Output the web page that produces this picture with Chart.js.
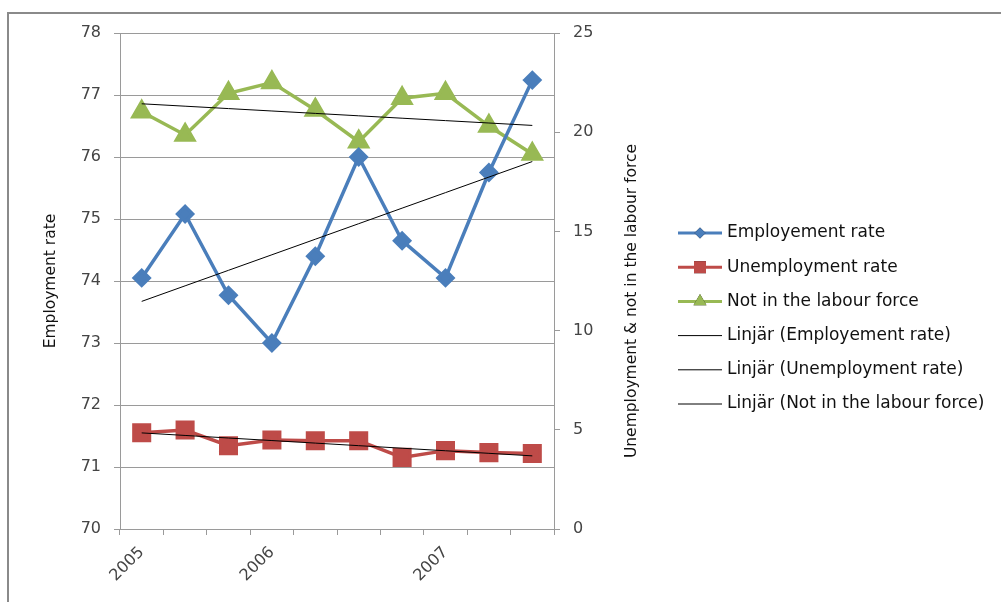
<!DOCTYPE html>
<html>
<head>
<meta charset="utf-8">
<script src="https://cdn.jsdelivr.net/npm/chart.js@4/dist/chart.umd.min.js"></script>
<style>
  html, body { margin: 0; padding: 0; background: #ffffff; }
  #wrap { width: 1001px; height: 602px; position: relative; }
</style>
</head>
<body>
<div id="wrap"><canvas id="chart" width="1001" height="602"></canvas></div>
<script>
// Quarterly labour market figures, 2005–2007
const periods = ['2005', '', '', '2006', '', '', '', '2007', '', ''];
const employmentRate = [74.05, 75.08, 73.77, 73.0, 74.4, 76.0, 74.65, 74.05, 75.75, 77.24];
const unemploymentRate = [4.85, 4.99, 4.2, 4.49, 4.45, 4.45, 3.61, 3.95, 3.85, 3.81];
const notInLabourForce = [21.03, 19.86, 21.96, 22.5, 21.12, 19.52, 21.71, 21.96, 20.31, 18.9];

const leftTicks = { min: 70, max: 78, step: 1 };
const rightTicks = { min: 0, max: 25, step: 5 };

const seriesNames = ['Employement rate', 'Unemployment rate', 'Not in the labour force'];
const trendPrefix = 'Linjär';

const COLORS = { blue: '#4A7EBB', red: '#BE4B48', green: '#98B954', grid: '#9a9a9a', text: '#444444' };
const FONT = '"DejaVu Sans", "Open Sans", sans-serif';

// Least-squares linear trend evaluated at every category index
function linearTrend(values) {
  const n = values.length;
  const mx = (n - 1) / 2;
  const my = values.reduce((a, b) => a + b, 0) / n;
  let sxy = 0, sxx = 0;
  values.forEach((v, i) => { sxy += (i - mx) * (v - my); sxx += (i - mx) * (i - mx); });
  const slope = sxy / sxx;
  return values.map((_, i) => my + slope * (i - mx));
}

const trendStyle = { borderColor: '#000000', borderWidth: 1, pointRadius: 0, fill: false, tension: 0 };

const datasets = [
  { label: seriesNames[0], data: employmentRate, yAxisID: 'yLeft', borderColor: COLORS.blue, backgroundColor: COLORS.blue,
    borderWidth: 3.5, pointStyle: 'rectRot', pointRadius: 7.5, order: 3 },
  { label: seriesNames[1], data: unemploymentRate, yAxisID: 'yRight', borderColor: COLORS.red, backgroundColor: COLORS.red,
    borderWidth: 3.5, pointStyle: 'rect', pointRadius: 11, order: 3 },
  { label: seriesNames[2], data: notInLabourForce, yAxisID: 'yRight', borderColor: COLORS.green, backgroundColor: COLORS.green,
    borderWidth: 3.5, pointStyle: 'triangle', pointRadius: 10, order: 3 },
  Object.assign({ label: trendPrefix + ' (' + seriesNames[0] + ')', data: linearTrend(employmentRate), yAxisID: 'yLeft', order: 1 }, trendStyle),
  Object.assign({ label: trendPrefix + ' (' + seriesNames[1] + ')', data: linearTrend(unemploymentRate), yAxisID: 'yRight', order: 1 }, trendStyle),
  Object.assign({ label: trendPrefix + ' (' + seriesNames[2] + ')', data: linearTrend(notInLabourForce), yAxisID: 'yRight', order: 1 }, trendStyle)
];

// Outer frame of the chart object
const framePlugin = {
  id: 'frame',
  beforeDraw(chart) {
    const ctx = chart.ctx;
    ctx.save();
    ctx.fillStyle = '#ffffff';
    ctx.fillRect(0, 0, chart.width, chart.height);
    ctx.strokeStyle = '#8a8a8a';
    ctx.lineWidth = 2;
    ctx.strokeRect(8, 13, chart.width + 20, chart.height + 20);
    ctx.restore();
  }
};

// Axis titles, both reading upward
const axisTitlePlugin = {
  id: 'axisTitles',
  afterDraw(chart) {
    const ctx = chart.ctx;
    const area = chart.chartArea;
    const drawTitle = (text, x, y) => {
      ctx.save();
      ctx.fillStyle = '#111111';
      ctx.font = '15.5px ' + FONT;
      ctx.textAlign = 'center';
      ctx.textBaseline = 'middle';
      ctx.translate(x, y);
      ctx.rotate(-Math.PI / 2);
      ctx.fillText(text, 0, 0);
      ctx.restore();
    };
    drawTitle('Employment rate', 51, (area.top + area.bottom) / 2);
    drawTitle('Unemployment & not in the labour force', 632, (area.top + area.bottom) / 2 + 20);
  }
};

// Legend with line + marker samples
const legendPlugin = {
  id: 'sideLegend',
  afterDraw(chart) {
    const ctx = chart.ctx;
    const x0 = 678, x1 = 722, tx = 727, y0 = 233, dy = 34.2;
    chart.data.datasets.forEach((ds, i) => {
      const y = y0 + i * dy;
      ctx.save();
      ctx.strokeStyle = ds.borderColor;
      ctx.lineWidth = ds.borderWidth > 1 ? 3 : 1;
      ctx.beginPath();
      ctx.moveTo(x0, y);
      ctx.lineTo(x1, y);
      ctx.stroke();
      if (ds.pointRadius > 0) {
        const r = ds.pointStyle === 'rect' ? 8.5 : (ds.pointStyle === 'triangle' ? 7.5 : 5.5);
        Chart.helpers.drawPoint(ctx, { pointStyle: ds.pointStyle, radius: r, rotation: 0, borderWidth: 0 }, (x0 + x1) / 2, y);
        ctx.fillStyle = ds.backgroundColor;
        ctx.fill();
      }
      ctx.fillStyle = '#111111';
      ctx.font = '17px ' + FONT;
      ctx.textAlign = 'left';
      ctx.textBaseline = 'middle';
      ctx.fillText(ds.label, tx, y);
      ctx.restore();
    });
  }
};

const tickFont = { family: FONT, size: 16 };

new Chart(document.getElementById('chart'), {
  type: 'line',
  data: { labels: periods, datasets },
  plugins: [framePlugin, axisTitlePlugin, legendPlugin],
  options: {
    responsive: false,
    animation: false,
    events: [],
    layout: { padding: { left: 0, right: 0, top: 33, bottom: 0 } },
    plugins: { legend: { display: false }, tooltip: { enabled: false } },
    elements: { line: { tension: 0 }, point: { borderWidth: 0 } },
    scales: {
      x: {
        type: 'category',
        offset: true,
        grid: { display: true, drawOnChartArea: false, drawTicks: true, tickLength: 6, color: COLORS.grid, offset: true },
        border: { color: COLORS.grid, width: 1 },
        ticks: { autoSkip: false, maxRotation: 45, minRotation: 45, padding: 8, color: COLORS.text, font: tickFont },
        afterFit(scale) { scale.height = 73; }
      },
      yLeft: {
        position: 'left',
        min: leftTicks.min, max: leftTicks.max,
        grid: { color: COLORS.grid, drawTicks: true, tickLength: 6 },
        border: { color: COLORS.grid, width: 1 },
        ticks: { stepSize: leftTicks.step, padding: 13, color: COLORS.text, font: tickFont },
        afterFit(scale) { scale.width = 120; }
      },
      yRight: {
        position: 'right',
        min: rightTicks.min, max: rightTicks.max,
        grid: { drawOnChartArea: false, color: COLORS.grid, drawTicks: true, tickLength: 6 },
        border: { color: COLORS.grid, width: 1 },
        ticks: { stepSize: rightTicks.step, padding: 13, color: COLORS.text, font: tickFont },
        afterFit(scale) { scale.width = 1001 - 554; }
      }
    }
  }
});
</script>
</body>
</html>
